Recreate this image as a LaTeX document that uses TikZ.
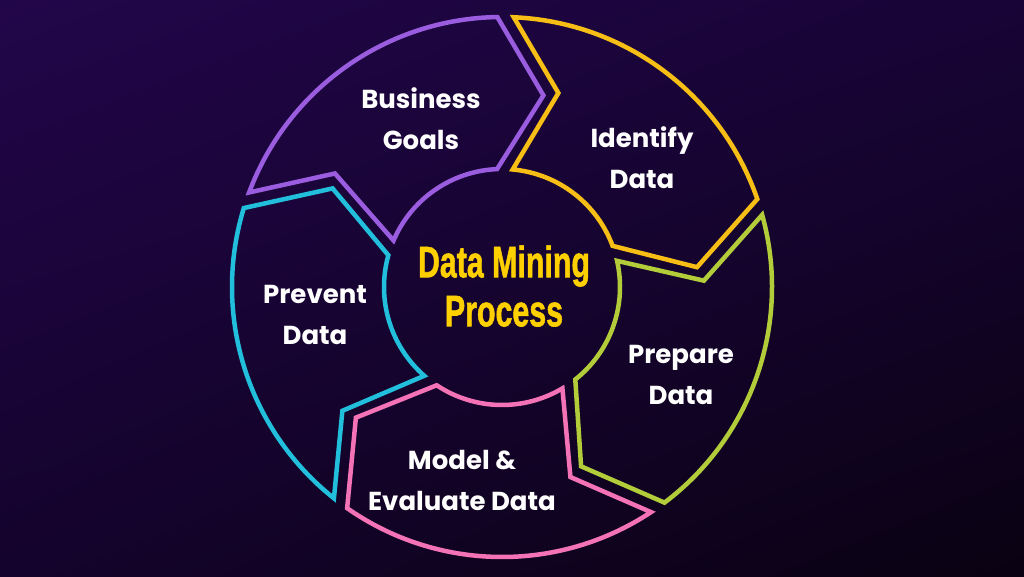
\documentclass[tikz,border=0pt]{standalone}
\usepackage{fontspec}
\usetikzlibrary{shadings}
\setmainfont{Poppins}
\newfontfamily\titlefont[BoldFeatures={FakeBold=1.5}]{Liberation Sans}
\definecolor{bgA}{HTML}{22064A}
\definecolor{bgB}{HTML}{0A0212}
\definecolor{bgC}{HTML}{180436}
\definecolor{bgD}{HTML}{14032C}
\definecolor{cPurple}{HTML}{9B5DE0}
\definecolor{cYellow}{HTML}{F7BE16}
\definecolor{cGreen}{HTML}{B3CC3A}
\definecolor{cPink}{HTML}{F472B6}
\definecolor{cCyan}{HTML}{22BFDD}
\definecolor{cTitle}{HTML}{FFD000}
\tikzset{
  seg/.style={draw=#1, line width=4.5pt, line join=miter},
  lbl/.style={text=white, align=center, font=\fontsize{26}{41}\selectfont\bfseries},
  ttl/.style={text=cTitle, align=center, font=\titlefont\fontsize{44}{49}\selectfont\bfseries, xscale=0.69}
}
\begin{document}
\begin{tikzpicture}[x=1pt,y=1pt]
\useasboundingbox (0,0) rectangle (1024,576);
\shade[upper left=bgA, upper right=bgC, lower left=bgD, lower right=bgB] (0,0) rectangle (1024,576);
\begin{scope}[shift={(502,289)}]
\foreach \a/\c in {0/cPurple,-72/cYellow,-144/cGreen,-216/cPink,-288/cCyan}{
  \draw[seg=\c] (159.5+\a:270pt) arc[start angle=159.5+\a, end angle=91+\a, radius=270pt]
    -- (77.8+\a:196pt) -- (92.4+\a:118pt)
    arc[start angle=92.4+\a, end angle=156.8+\a, radius=118pt]
    -- (145.8+\a:202pt) -- cycle;
}
\end{scope}
\node[lbl] (business) at (421,457) {Business\\Goals};
\node[lbl] (identify) at (642,418) {Identify\\Data};
\node[lbl] (prepare) at (681,201) {Prepare\\Data};
\node[lbl] (model) at (462,96) {Model \&\\Evaluate Data};
\node[lbl] (prevent) at (315,261) {Prevent\\Data};
\node[ttl] (title) at (504,290) {Data Mining\\Process};
\end{tikzpicture}
\end{document}
